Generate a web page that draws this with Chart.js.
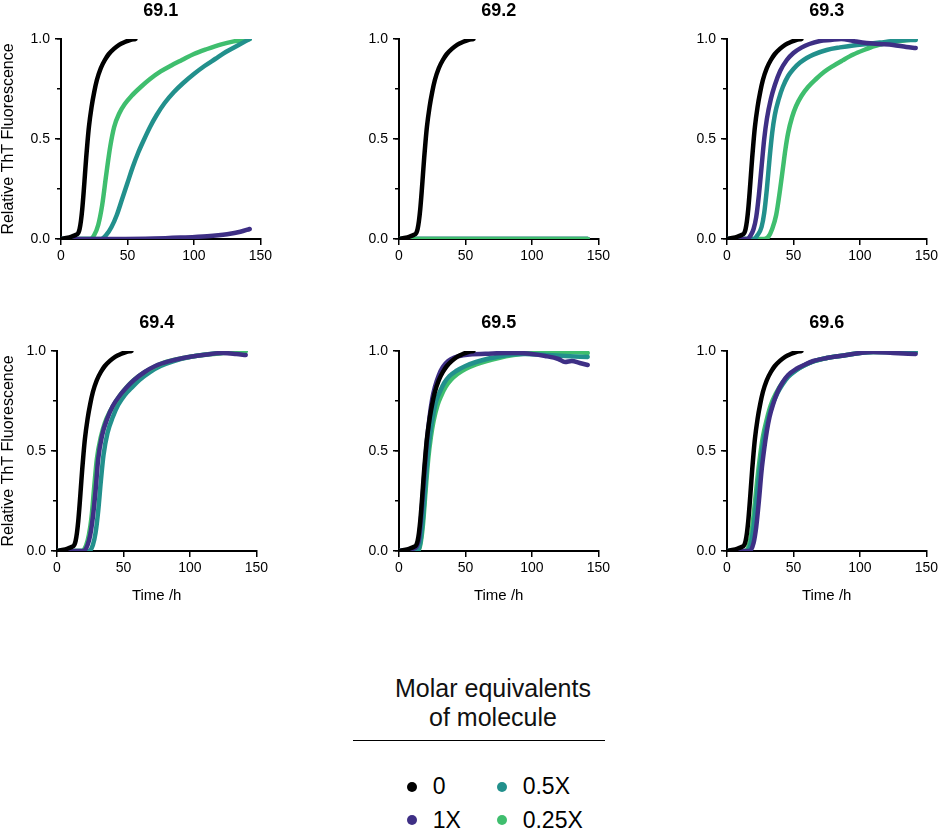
<!DOCTYPE html>
<html>
<head>
<meta charset="utf-8">
<script src="https://cdn.jsdelivr.net/npm/chart.js@4.4.1/dist/chart.umd.min.js"></script>
<style>
html,body{margin:0;padding:0;background:#fff;overflow:hidden;width:941px;height:831px;}
body{position:relative;font-family:"Liberation Sans",Arial,Helvetica,sans-serif;color:#000;}
canvas{position:absolute;}
.lgTitle{position:absolute;left:343px;top:674px;width:300px;text-align:center;font-size:25px;line-height:29px;color:#111;}
.lgLine{position:absolute;left:353px;top:740px;width:252px;height:1px;background:#000;}
.dot{position:absolute;width:10px;height:10px;border-radius:50%;}
.lgText{position:absolute;font-size:23px;line-height:23px;color:#000;white-space:nowrap;}
</style>
</head>
<body>
<div class="lgTitle">Molar equivalents<br>of molecule</div>
<div class="lgLine"></div>
<div id="legend"></div>
<script>
// ---------- data ----------
const panelTitles = ['69.1', '69.2', '69.3', '69.4', '69.5', '69.6'];
const seriesNames = ['0', '1X', '0.5X', '0.25X'];
const seriesColors = ['#000000', '#3e2f85', '#22908c', '#3fbe6e'];
const xTickStep = 50;
const yTickStep = 0.5;
const xTitle = 'Time /h';
const yTitle = 'Relative ThT Fluorescence';

// control (0) - same in every panel
const t0 = [0, 4, 8, 11, 13, 14, 15, 16, 17, 18, 19, 20, 21, 23, 25, 27, 30, 33, 36, 40, 44, 48, 52, 56];
const v0 = [0, 0.005, 0.012, 0.02, 0.03, 0.05, 0.09, 0.15, 0.23, 0.32, 0.41, 0.49, 0.56, 0.66, 0.735, 0.795, 0.855, 0.895, 0.925, 0.952, 0.972, 0.985, 0.995, 1.0];

// 69.1
const p1t1X = [0, 40, 70, 90, 110, 125, 135, 142];
const p1v1X = [0, 0, 0.002, 0.007, 0.014, 0.024, 0.036, 0.05];
const p1t05 = [0, 30, 34, 38, 42, 46, 50, 54, 58, 62, 67, 72, 78, 85, 92, 100, 108, 116, 124, 133, 142];
const p1v05 = [0, 0, 0.02, 0.06, 0.12, 0.2, 0.28, 0.36, 0.43, 0.49, 0.56, 0.62, 0.68, 0.735, 0.78, 0.825, 0.865, 0.9, 0.935, 0.968, 1.0];
const p1t025 = [0, 22, 25, 28, 31, 34, 37, 40, 44, 48, 53, 60, 67, 75, 83, 91, 100, 110, 120, 130, 142];
const p1v025 = [0, 0, 0.02, 0.07, 0.17, 0.32, 0.46, 0.56, 0.63, 0.675, 0.715, 0.76, 0.8, 0.838, 0.868, 0.895, 0.925, 0.95, 0.972, 0.988, 1.0];

// 69.2
const p2t1X = [0, 142];
const p2v1X = [0, 0];
const p2t05 = [0, 142];
const p2v05 = [0, 0];
const p2t025 = [0, 142];
const p2v025 = [0, 0];

// 69.3
const p3t1X = [0, 15, 18, 20, 22, 24, 26, 28, 30, 33, 36, 40, 45, 50, 56, 62, 70, 78, 86, 95, 105, 115, 125, 135, 142];
const p3v1X = [0, 0, 0.02, 0.05, 0.11, 0.22, 0.36, 0.5, 0.6, 0.7, 0.77, 0.84, 0.895, 0.93, 0.957, 0.975, 0.99, 0.995, 1.0, 0.99, 0.98, 0.975, 0.97, 0.96, 0.955];
const p3t05 = [0, 20, 23, 26, 28, 30, 32, 34, 36, 39, 42, 46, 50, 55, 60, 65, 75, 85, 95, 105, 115, 125, 135, 142];
const p3v05 = [0, 0, 0.02, 0.06, 0.13, 0.25, 0.4, 0.53, 0.62, 0.7, 0.76, 0.815, 0.85, 0.882, 0.905, 0.922, 0.945, 0.958, 0.968, 0.975, 0.982, 0.99, 0.995, 0.995];
const p3t025 = [0, 28, 31, 34, 37, 40, 42, 44, 46, 49, 52, 56, 61, 67, 73, 80, 87, 95, 103, 111, 120, 130, 142];
const p3v025 = [0, 0, 0.01, 0.05, 0.12, 0.25, 0.35, 0.45, 0.53, 0.61, 0.665, 0.715, 0.76, 0.8, 0.835, 0.866, 0.893, 0.922, 0.945, 0.965, 0.98, 0.99, 1.0];

// 69.4
const p4t1X = [0, 20, 23, 25, 27, 29, 31, 34, 38, 42, 47, 52, 58, 66, 74, 84, 95, 110, 125, 135, 142];
const p4v1X = [0, 0, 0.03, 0.08, 0.17, 0.3, 0.46, 0.58, 0.665, 0.725, 0.775, 0.815, 0.855, 0.895, 0.925, 0.948, 0.965, 0.98, 0.99, 0.985, 0.98];
const p4t05 = [0, 24, 27, 29, 31, 33, 35, 38, 42, 46, 51, 56, 62, 70, 78, 88, 100, 115, 130, 142];
const p4v05 = [0, 0, 0.03, 0.09, 0.2, 0.35, 0.48, 0.59, 0.67, 0.73, 0.78, 0.815, 0.855, 0.895, 0.925, 0.95, 0.97, 0.985, 0.995, 1.0];
const p4t025 = [0, 19, 22, 24, 26, 28, 30, 33, 36, 40, 45, 50, 57, 65, 73, 82, 95, 110, 125, 142];
const p4v025 = [0, 0, 0.03, 0.08, 0.17, 0.32, 0.46, 0.57, 0.64, 0.7, 0.755, 0.8, 0.85, 0.89, 0.92, 0.945, 0.965, 0.98, 0.99, 1.0];

// 69.5
const p5t1X = [0, 10, 13, 15, 17, 19, 21, 23, 25, 27, 30, 33, 37, 42, 48, 55, 65, 80, 90, 100, 110, 120, 125, 130, 136, 142];
const p5v1X = [0, 0.01, 0.02, 0.06, 0.2, 0.38, 0.55, 0.67, 0.76, 0.82, 0.88, 0.92, 0.95, 0.968, 0.978, 0.984, 0.986, 0.99, 0.99, 0.985, 0.975, 0.96, 0.945, 0.95, 0.94, 0.93];
const p5t05 = [0, 14, 16, 18, 20, 22, 24, 26, 28, 31, 34, 38, 43, 50, 58, 66, 75, 85, 95, 110, 125, 142];
const p5v05 = [0, 0, 0.04, 0.16, 0.34, 0.5, 0.61, 0.69, 0.75, 0.8, 0.84, 0.875, 0.9, 0.925, 0.945, 0.96, 0.972, 0.983, 0.985, 0.98, 0.975, 0.97];
const p5t025 = [0, 14, 16, 18, 20, 22, 24, 26, 29, 32, 35, 39, 44, 50, 58, 66, 75, 85, 100, 115, 130, 142];
const p5v025 = [0, 0, 0.03, 0.13, 0.3, 0.46, 0.57, 0.65, 0.73, 0.78, 0.82, 0.855, 0.885, 0.91, 0.933, 0.95, 0.965, 0.978, 0.99, 0.99, 0.995, 0.99];

// 69.6
const p6t1X = [0, 17, 20, 22, 24, 26, 28, 30, 32, 35, 38, 42, 46, 52, 58, 65, 75, 90, 100, 110, 125, 142];
const p6v1X = [0, 0, 0.04, 0.12, 0.25, 0.4, 0.51, 0.6, 0.67, 0.74, 0.795, 0.845, 0.88, 0.91, 0.93, 0.95, 0.965, 0.98, 0.99, 0.995, 0.99, 0.985];
const p6t05 = [0, 15, 18, 20, 22, 24, 26, 28, 31, 34, 38, 42, 46, 52, 58, 65, 75, 90, 100, 110, 125, 142];
const p6v05 = [0, 0, 0.04, 0.12, 0.24, 0.37, 0.48, 0.57, 0.66, 0.73, 0.79, 0.835, 0.87, 0.903, 0.927, 0.948, 0.965, 0.98, 0.99, 0.995, 0.995, 0.995];
const p6t025 = [0, 14, 17, 19, 21, 23, 25, 27, 30, 33, 37, 41, 46, 52, 58, 65, 75, 90, 100, 110, 125, 142];
const p6v025 = [0, 0, 0.04, 0.12, 0.24, 0.37, 0.48, 0.57, 0.66, 0.73, 0.79, 0.835, 0.875, 0.905, 0.928, 0.948, 0.965, 0.98, 0.99, 0.995, 0.995, 0.995];

const panelSeries = [
  [[t0, v0], [p1t1X, p1v1X], [p1t05, p1v05], [p1t025, p1v025]],
  [[t0, v0], [p2t1X, p2v1X], [p2t05, p2v05], [p2t025, p2v025]],
  [[t0, v0], [p3t1X, p3v1X], [p3t05, p3v05], [p3t025, p3v025]],
  [[t0, v0], [p4t1X, p4v1X], [p4t05, p4v05], [p4t025, p4v025]],
  [[t0, v0], [p5t1X, p5v1X], [p5t05, p5v05], [p5t025, p5v025]],
  [[t0, v0], [p6t1X, p6v1X], [p6t05, p6v05], [p6t025, p6v025]]
];

// ---------- layout / style ----------
const panelPos = [
  {left: 61, top: 39}, {left: 399, top: 39}, {left: 727, top: 39},
  {left: 57, top: 351}, {left: 399, top: 351}, {left: 727, top: 351}
];
// series indices from top-most to bottom-most drawing layer
const drawOrder = [[0,1,2,3],[0,3,2,1],[0,1,2,3],[0,1,3,2],[0,1,2,3],[0,1,2,3]];
const AXW = 60, PLOT = 200, TITLEH = 39, XAXH = 60, RPAD = 14;
const CW = AXW + PLOT + RPAD, CH = TITLEH + PLOT + XAXH;
const TITLE_SIZE = 18;

Chart.defaults.font.family = '"Liberation Sans", Arial, Helvetica, sans-serif';
Chart.defaults.color = '#000';

panelSeries.forEach((series, i) => {
  const pos = panelPos[i];
  const c = document.createElement('canvas');
  c.width = CW; c.height = CH;
  c.style.width = CW + 'px'; c.style.height = CH + 'px';
  const cLeft = pos.left - AXW;
  c.style.left = cLeft + 'px';
  c.style.top = (pos.top - TITLEH) + 'px';
  document.body.appendChild(c);
  const showY = i % 3 === 0;
  const showX = i >= 3;
  const yPad = Math.max(0, 9 - cLeft - 8);
  const datasets = series.map((s, k) => ({
    label: seriesNames[k],
    data: s[0].map((t, j) => ({x: t, y: s[1][j]})),
    borderColor: seriesColors[k],
    backgroundColor: seriesColors[k],
    borderWidth: 4.5,
    pointRadius: 0,
    fill: false,
    cubicInterpolationMode: 'monotone',
    borderCapStyle: 'round',
    borderJoinStyle: 'round',
    order: drawOrder[i].indexOf(k)
  }));
  const tickGrid = {drawOnChartArea: false, drawTicks: true, tickLength: 6, color: '#000', lineWidth: 1.5};
  new Chart(c, {
    type: 'line',
    data: {datasets},
    options: {
      responsive: false,
      animation: false,
      events: [],
      layout: {padding: {left: 0, right: RPAD, top: 0, bottom: 0}},
      plugins: {
        legend: {display: false},
        tooltip: {enabled: false},
        title: {
          display: true, text: panelTitles[i], fullSize: false, color: '#000',
          font: {size: TITLE_SIZE, weight: 'bold', lineHeight: 1.2},
          padding: {top: 0, bottom: TITLEH - TITLE_SIZE * 1.2}
        }
      },
      scales: {
        x: {
          type: 'linear', min: 0, max: 150,
          afterFit: s => { s.height = XAXH; },
          ticks: {stepSize: xTickStep, padding: 3, font: {size: 14}, color: '#000', maxRotation: 0, autoSkip: false,
                  callback: v => String(v)},
          grid: tickGrid,
          border: {display: true, color: '#000', width: 2},
          title: {display: showX, text: xTitle, color: '#000', font: {size: 15, lineHeight: 1}, padding: {top: 0, bottom: 8}}
        },
        y: {
          type: 'linear', min: 0, max: 1, position: 'left', weight: 1,
          afterFit: s => { s.width = AXW; },
          ticks: {stepSize: yTickStep, padding: 5, font: {size: 14}, color: '#000', callback: v => Number(v).toFixed(1)},
          grid: tickGrid,
          border: {display: true, color: '#000', width: 2},
          title: {display: showY, text: yTitle, color: '#000', font: {size: 16, lineHeight: 1}, padding: {top: yPad, bottom: 0}}
        },
        y2: {
          type: 'linear', axis: 'y', min: 0, max: 1, position: 'left', weight: 0,
          afterFit: s => { s.width = 0; },
          ticks: {display: false, stepSize: yTickStep / 2},
          grid: {drawOnChartArea: false, drawTicks: true, tickLength: 4, color: '#000', lineWidth: 1.5},
          border: {display: false}
        }
      }
    }
  });
});

// ---------- legend (HTML text) ----------
const legendItems = [
  {k: 0, x: 411.7, y: 786.7}, {k: 2, x: 501.7, y: 786.7},
  {k: 1, x: 411.7, y: 820}, {k: 3, x: 501.7, y: 820}
];
const lg = document.getElementById('legend');
legendItems.forEach(it => {
  const d = document.createElement('div');
  d.className = 'dot';
  d.style.background = seriesColors[it.k];
  d.style.left = (it.x - 5) + 'px';
  d.style.top = (it.y - 5) + 'px';
  lg.appendChild(d);
  const t = document.createElement('div');
  t.className = 'lgText';
  t.textContent = seriesNames[it.k];
  t.style.left = (it.x + 21) + 'px';
  t.style.top = (it.y - 11.3) + 'px';
  lg.appendChild(t);
});
</script>
</body>
</html>
